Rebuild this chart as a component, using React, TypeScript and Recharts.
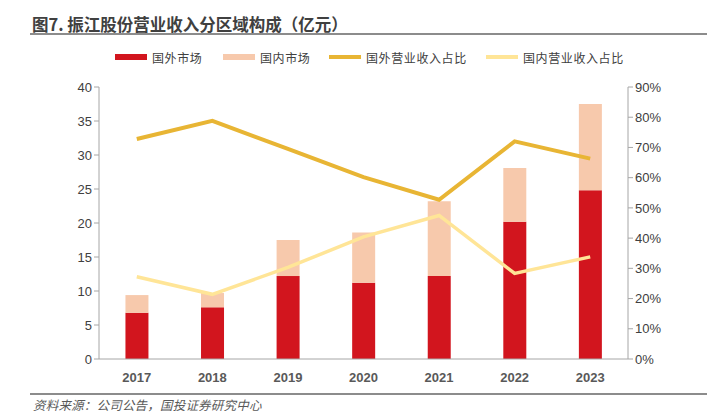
import { Bar, ComposedChart, Line, XAxis, YAxis } from 'recharts';

const YEARS = ['2017', '2018', '2019', '2020', '2021', '2022', '2023'];
// 亿元
const FOREIGN_MARKET = [6.8, 7.6, 12.2, 11.2, 12.2, 20.2, 24.8];
const DOMESTIC_MARKET = [2.6, 2.1, 5.3, 7.4, 11.0, 7.9, 12.7];
// %
const FOREIGN_SHARE = [72.8, 78.8, 69.5, 60.2, 52.7, 72.0, 66.3];
const DOMESTIC_SHARE = [27.2, 21.4, 30.3, 40.4, 47.5, 28.3, 33.8];

const LEFT_TICKS = [0, 5, 10, 15, 20, 25, 30, 35, 40];
const RIGHT_TICKS = [0, 10, 20, 30, 40, 50, 60, 70, 80, 90];
const EDGE_TICKS = [0, 1, 2, 3, 4, 5, 6, 7];

const RED = '#d2151e';
const SALMON = '#f7c9ac';
const GOLD = '#e8b534';
const PALE = '#ffe597';
const AXIS = '#a6a6a6';
const FONT = '"Liberation Sans", Arial, "Noto Sans CJK SC", sans-serif';
const CJK = '"Noto Sans CJK SC", sans-serif';

const data = YEARS.map((year, i) => ({
  year,
  foreign: FOREIGN_MARKET[i],
  domestic: DOMESTIC_MARKET[i],
  foreignShare: FOREIGN_SHARE[i],
  domesticShare: DOMESTIC_SHARE[i],
}));

const legendItems = [
  { label: '国外市场', color: RED, h: 6, x: 115 },
  { label: '国内市场', color: SALMON, h: 6, x: 223 },
  { label: '国外营业收入占比', color: GOLD, h: 4, x: 329 },
  { label: '国内营业收入占比', color: PALE, h: 4, x: 486 },
];

const tickStyle = { fill: '#404040', fontSize: 13, fontFamily: FONT };

export default function App() {
  return (
    <div style={{ position: 'absolute', left: 0, top: 0, width: 721, height: 417, background: '#fff', overflow: 'hidden' }}>
      <div
        style={{
          position: 'absolute',
          left: 32,
          top: 12,
          fontFamily: CJK,
          fontWeight: 700,
          fontSize: 16.5,
          lineHeight: '24px',
          color: '#404040',
          whiteSpace: 'nowrap',
        }}
      >
        图7. 振江股份营业收入分区域构成（亿元）
      </div>
      <div style={{ position: 'absolute', left: 30, top: 33, width: 677, height: 2, background: '#8c8c8c' }} />

      {legendItems.map((item) => (
        <div
          key={item.label}
          style={{
            position: 'absolute',
            left: item.x,
            top: 48,
            height: 18,
            display: 'flex',
            alignItems: 'center',
            fontFamily: CJK,
            fontSize: 12,
            letterSpacing: 0.6,
            color: '#404040',
            whiteSpace: 'nowrap',
          }}
        >
          <span style={{ display: 'inline-block', width: 32, height: item.h, background: item.color, marginRight: 5 }} />
          <span>{item.label}</span>
        </div>
      ))}

      <div style={{ position: 'absolute', left: 0, top: 0 }}>
        <ComposedChart
          width={721}
          height={417}
          data={data}
          barCategoryGap="35%"
          margin={{ top: 87, right: 48, bottom: 28, left: 59 }}
        >
          <XAxis
            xAxisId="edge"
            type="number"
            domain={[0, 7]}
            ticks={EDGE_TICKS}
            height={0}
            axisLine={false}
            tickLine={{ stroke: AXIS }}
            tickSize={5}
            tick={() => <g />}
            allowDataOverflow
          />
          <XAxis
            dataKey="year"
            height={30}
            tick={{ ...tickStyle, fontWeight: 700, fill: '#595959' }}
            tickLine={false}
            axisLine={{ stroke: AXIS }}
            tickMargin={8}
          />
          <YAxis
            yAxisId="left"
            domain={[0, 40]}
            ticks={LEFT_TICKS}
            width={40}
            tick={tickStyle}
            tickLine={{ stroke: AXIS }}
            tickSize={5}
            axisLine={{ stroke: AXIS }}
            interval={0}
          />
          <YAxis
            yAxisId="right"
            orientation="right"
            domain={[0, 90]}
            ticks={RIGHT_TICKS}
            width={45}
            tick={tickStyle}
            tickFormatter={(v) => `${v}%`}
            tickLine={{ stroke: AXIS }}
            tickSize={5}
            axisLine={{ stroke: AXIS }}
            interval={0}
          />
          <Bar yAxisId="left" dataKey="foreign" stackId="m" fill={RED} isAnimationActive={false} />
          <Bar yAxisId="left" dataKey="domestic" stackId="m" fill={SALMON} isAnimationActive={false} />
          <Line
            yAxisId="right"
            dataKey="foreignShare"
            stroke={GOLD}
            strokeWidth={4}
            dot={false}
            isAnimationActive={false}
          />
          <Line
            yAxisId="right"
            dataKey="domesticShare"
            stroke={PALE}
            strokeWidth={3.5}
            dot={false}
            isAnimationActive={false}
          />
        </ComposedChart>
      </div>

      <div style={{ position: 'absolute', left: 30, top: 393, width: 677, height: 2, background: '#8c8c8c' }} />
      <div
        style={{
          position: 'absolute',
          left: 33,
          top: 396,
          fontFamily: CJK,
          fontStyle: 'italic',
          fontSize: 12.5,
          lineHeight: '17px',
          letterSpacing: 0.2,
          color: '#595959',
          whiteSpace: 'nowrap',
        }}
      >
        资料来源：公司公告，国投证券研究中心
      </div>
    </div>
  );
}
